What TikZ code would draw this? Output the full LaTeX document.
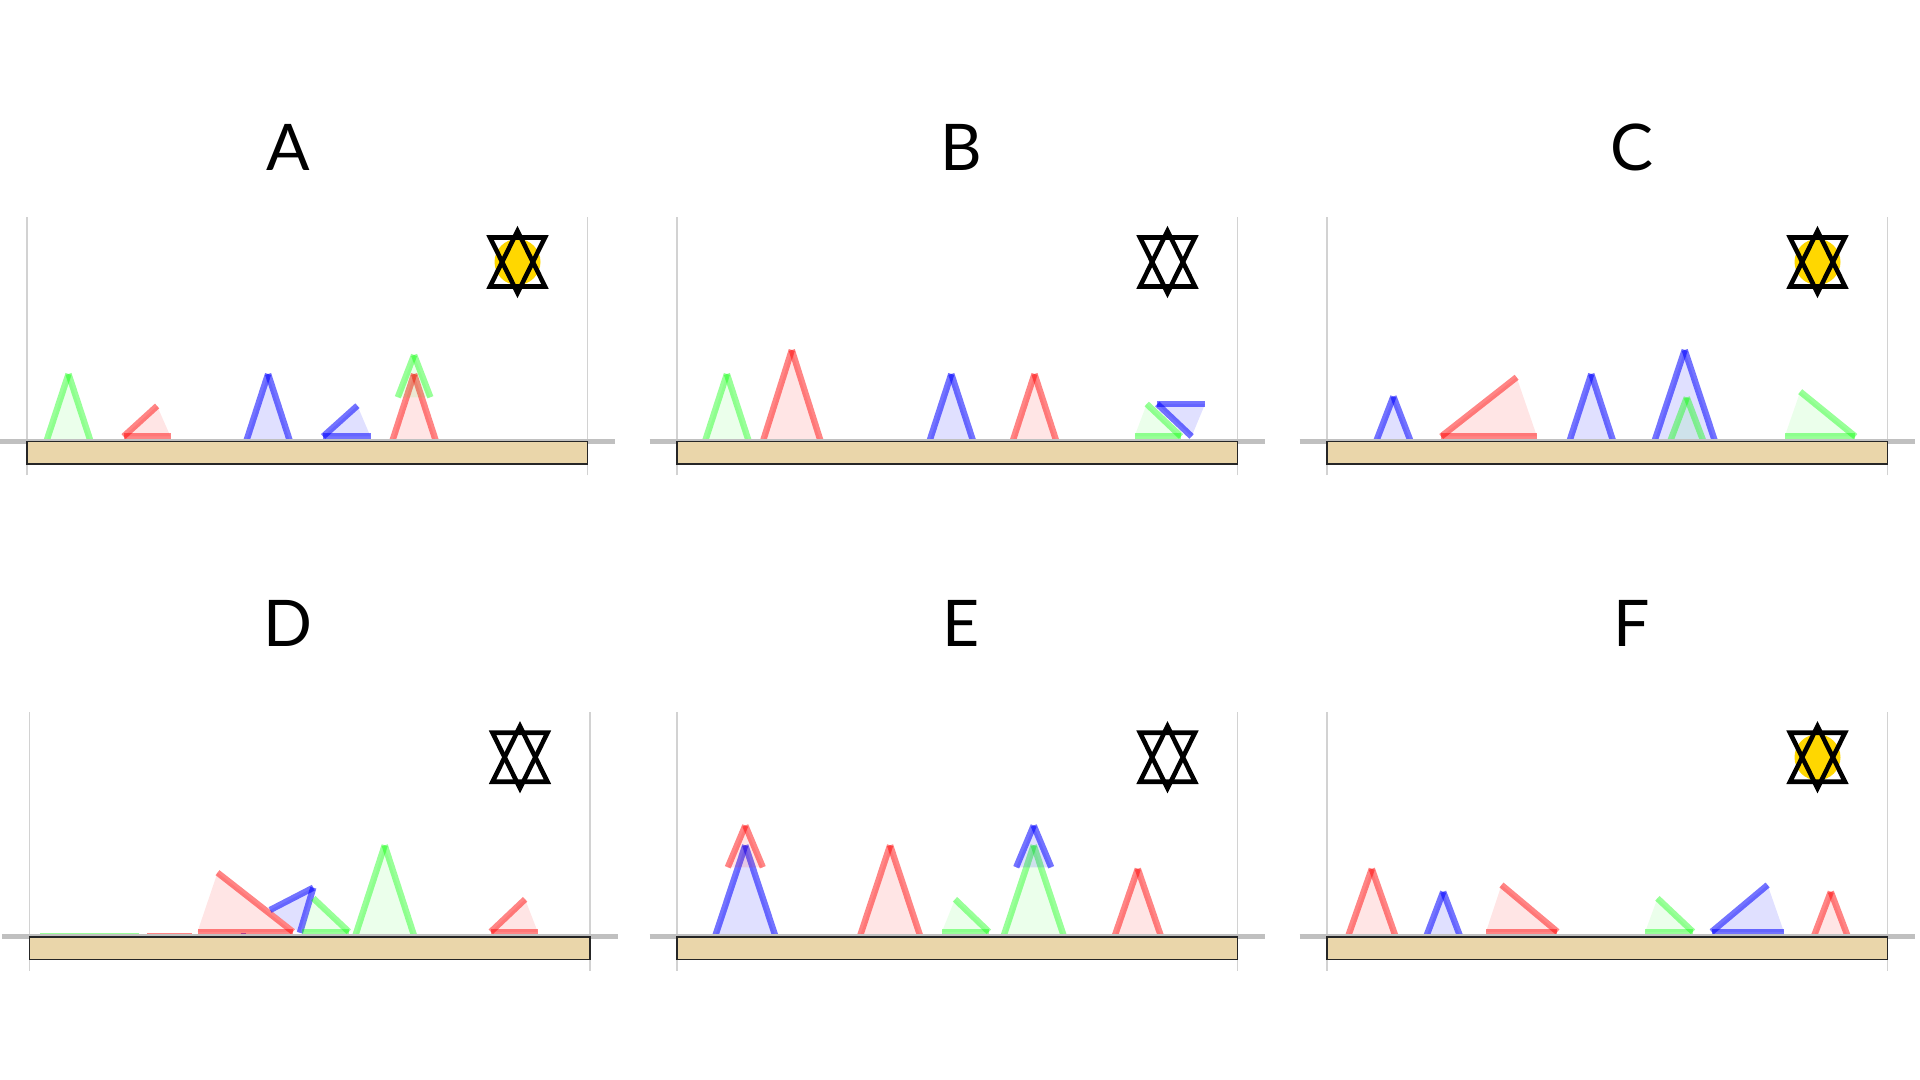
\documentclass[tikz,border=0pt]{standalone}
\usepackage{fontspec}
\setmainfont{Lato}
\usepackage{tikz}
\definecolor{plinthtan}{RGB}{234,214,170}
\definecolor{framegray}{RGB}{210,210,210}
\definecolor{groundgray}{RGB}{192,192,192}
\definecolor{sungold}{RGB}{255,215,0}
\tikzset{
  tred/.style={color=red, draw opacity=0.48, fill opacity=0.1},
  tgreen/.style={color=green, draw opacity=0.4, fill opacity=0.08},
  tblue/.style={color=blue, draw opacity=0.55, fill opacity=0.12},
  triedge/.style={line width=1.8pt},
  frameline/.style={draw=framegray, line width=0.45pt},
  groundline/.style={draw=groundgray, line width=1.45pt},
  plinth/.style={draw=black!85, fill=plinthtan, line width=0.5pt},
  starline/.style={draw=black, line width=1.3pt},
  paneltitle/.style={font=\fontsize{18.3}{22}\selectfont, anchor=base, inner sep=0pt}
}
% upright spike: style, apex x, apex height, half width, base height
\newcommand{\uptri}[5]{%
  \fill[#1] (#2-#4,#5) -- (#2,#3) -- (#2+#4,#5) -- cycle;
  \draw[#1, triedge] (#2-#4,#5) -- (#2,#3);
  \draw[#1, triedge] (#2,#3) -- (#2+#4,#5);
}
% leaning triangle: edges a-b and b-c are stroked
\newcommand{\leantri}[4]{%
  \fill[#1] #2 -- #3 -- #4 -- cycle;
  \draw[#1, triedge] #2 -- #3;
  \draw[#1, triedge] #3 -- #4;
}
\newcommand{\davidstar}[2]{%
  \begin{scope}[shift={(#1,#2)}]
    \draw[starline] (0,31) -- (27.5,-24.5) -- (-27.5,-24.5) -- cycle;
    \draw[starline] (0,-31) -- (27.5,24.5) -- (-27.5,24.5) -- cycle;
  \end{scope}}
\newcommand{\panelframe}{%
  \draw[frameline] (0,-34) -- (0,224.5);
  \draw[frameline] (560.5,-34) -- (560.5,224.5);
  \draw[groundline] (-27.5,0) -- (588,0);
  \draw[plinth] (0,0) rectangle (560.5,-22.7);}

\begin{document}
\begin{tikzpicture}[x=0.01cm, y=0.01cm]
  \useasboundingbox (0,0) rectangle (1920,1080);

  % Titles
  \node[paneltitle] (titleA) at (288,909.5) {A};
  \node[paneltitle] (titleB) at (961,909.5) {B};
  \node[paneltitle] (titleC) at (1632,909.5) {C};
  \node[paneltitle] (titleD) at (288,433.5) {D};
  \node[paneltitle] (titleE) at (961,433.5) {E};
  \node[paneltitle] (titleF) at (1632,433.5) {F};

  % Panel A
  \begin{scope}[shift={(27,638.5)}]
    \uptri{tgreen}{41.5}{67.5}{21.8}{1}
    \leantri{tred}{(130.1,35.5)}{(96.6,5)}{(143.5,5)}
    \uptri{tblue}{241.1}{67.5}{21.6}{1}
    \leantri{tblue}{(330.4,35.8)}{(296.1,5)}{(343.5,5)}
    \uptri{tred}{387.1}{67.5}{21.6}{1}
    \uptri{tgreen}{387.1}{86.5}{16.3}{44.2}
    \panelframe
    \fill[sungold] (490.5,179.5) circle (23);
    \davidstar{490.5}{179.5}
  \end{scope}

  % Panel B
  \begin{scope}[shift={(677,638.5)}]
    \uptri{tgreen}{49.9}{67.5}{21.6}{1}
    \uptri{tred}{114.8}{91.5}{28.6}{1}
    \uptri{tblue}{274.3}{67.5}{21.6}{1}
    \uptri{tred}{357.5}{67.5}{21.6}{1}
    \leantri{tgreen}{(457.5,5)}{(504,5)}{(469.7,37.5)}
    \leantri{tblue}{(528.1,37.5)}{(480.3,37.5)}{(514.6,5)}
    \panelframe
    \davidstar{490.5}{179.5}
  \end{scope}

  % Panel C
  \begin{scope}[shift={(1327,638.5)}]
    \uptri{tblue}{66.4}{45}{16.9}{1}
    \leantri{tred}{(189.6,64.2)}{(114.2,5)}{(210,5)}
    \uptri{tblue}{264.3}{67.5}{21.6}{1}
    \draw[tblue, line width=0.4pt] (265,2) -- (318,2);
    \uptri{tblue}{357.7}{91.5}{30}{1}
    \uptri{tgreen}{359.8}{44}{16.3}{1}
    \leantri{tgreen}{(473.2,49.8)}{(528.3,5)}{(457.7,5)}
    \panelframe
    \fill[sungold] (490.5,179.5) circle (23);
    \davidstar{490.5}{179.5}
  \end{scope}

  % Panel D
  \begin{scope}[shift={(29.5,143.2)}]
    \draw[tgreen, line width=0.4pt] (10.5,3) -- (109.5,3);
    \draw[tred, line width=0.4pt] (117.5,3) -- (162.5,3);
    \draw[tblue, line width=0.4pt] (211,3) -- (216,3);
    \leantri{tred}{(188,64.1)}{(263.5,5)}{(168,5)}
    \leantri{tblue}{(240.6,26.8)}{(283.8,49.1)}{(270.4,4)}
    \leantri{tgreen}{(283.8,38.5)}{(319.3,5)}{(272.4,5)}
    \uptri{tgreen}{355.2}{91.5}{29.4}{1}
    \leantri{tred}{(495.6,37.5)}{(461.3,5)}{(508.2,5)}
    \panelframe
    \davidstar{490.5}{179.5}
  \end{scope}

  % Panel E
  \begin{scope}[shift={(677,143.2)}]
    \uptri{tblue}{68.3}{91.5}{30}{1}
    \uptri{tred}{68.3}{111.3}{17.5}{69.5}
    \uptri{tred}{213.1}{91.5}{30}{1}
    \leantri{tgreen}{(278,37.5)}{(311.8,5)}{(264.9,5)}
    \uptri{tgreen}{356.7}{91.5}{30}{1}
    \uptri{tblue}{356.7}{111.3}{17.5}{69.5}
    \uptri{tred}{460.8}{68}{23}{1}
    \panelframe
    \davidstar{490.5}{179.5}
  \end{scope}

  % Panel F
  \begin{scope}[shift={(1327,143.2)}]
    \uptri{tred}{44.8}{68}{23.5}{1}
    \uptri{tblue}{116.2}{45}{16.7}{1}
    \leantri{tred}{(174.5,51.8)}{(230.4,5)}{(159,5)}
    \leantri{tgreen}{(330.4,38.5)}{(365.9,5)}{(318.2,5)}
    \leantri{tblue}{(440.6,51.8)}{(384.7,5)}{(456.9,5)}
    \uptri{tred}{503.8}{45}{16.7}{1}
    \panelframe
    \fill[sungold] (490.5,179.5) circle (23);
    \davidstar{490.5}{179.5}
  \end{scope}
\end{tikzpicture}
\end{document}
